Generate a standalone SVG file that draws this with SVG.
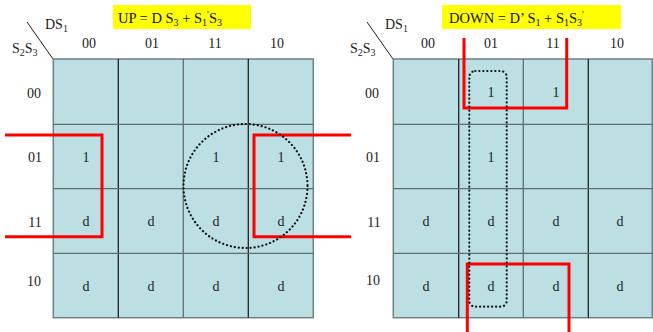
<svg xmlns="http://www.w3.org/2000/svg" width="653" height="332" viewBox="0 0 653 332">
<style>
text{font-family:"Liberation Serif","Times New Roman",serif;font-size:14px;fill:#222}
.c{text-anchor:middle}
.sub{font-size:10px}
.pr{font-size:10px}
.title{font-size:14.5px;fill:#111}
.cell{fill:#bbdfe2;stroke:#6e8282;stroke-width:1.5}
.in{stroke:#222;stroke-width:1.3}
.ing{stroke:#5e6e6e;stroke-width:1.3}
.red{fill:none;stroke:#ff0000;stroke-width:3}
.dot{fill:none;stroke:#111;stroke-width:2.2;stroke-dasharray:0.1 3.9;stroke-linecap:round}
</style>
<g id="left-map">
<rect x="113" y="5" width="138" height="24" fill="#ffff00"/>
<text class="title" x="118" y="23">UP = D S<tspan class="sub" dy="3">3</tspan><tspan dy="-3"> + S</tspan><tspan class="sub" dy="3">1</tspan><tspan class="pr" dy="-8">'</tspan><tspan dy="5">S</tspan><tspan class="sub" dy="3">3</tspan></text>
<line x1="27" y1="22" x2="53" y2="59" stroke="#222" stroke-width="1"/>
<text x="45" y="29">DS<tspan class="sub" dy="3">1</tspan></text>
<text x="12" y="53">S<tspan class="sub" dy="3">2</tspan><tspan dy="-3">S</tspan><tspan class="sub" dy="3">3</tspan></text>
<text class="c" x="89" y="48">00</text>
<text class="c" x="152" y="48">01</text>
<text class="c" x="215" y="48">11</text>
<text class="c" x="277" y="48">10</text>
<text class="c" x="34" y="98">00</text>
<text class="c" x="35" y="162">01</text>
<text class="c" x="35" y="227">11</text>
<text class="c" x="34" y="286">10</text>
<rect class="cell" x="53.3" y="59" width="260" height="258.7"/>
<line class="in" x1="118.3" y1="59" x2="118.3" y2="317.7"/>
<line class="ing" x1="183.3" y1="59" x2="183.3" y2="317.7"/>
<line class="in" x1="248.3" y1="59" x2="248.3" y2="317.7"/>
<line class="ing" x1="53.3" y1="124.3" x2="313.3" y2="124.3"/>
<line class="ing" x1="53.3" y1="188.7" x2="313.3" y2="188.7"/>
<line class="ing" x1="53.3" y1="253.3" x2="313.3" y2="253.3"/>
<text class="c" x="86" y="161.5">1</text>
<text class="c" x="216" y="161.5">1</text>
<text class="c" x="281" y="161.5">1</text>
<text class="c" x="86" y="226">d</text>
<text class="c" x="151" y="226">d</text>
<text class="c" x="216" y="226">d</text>
<text class="c" x="281" y="226">d</text>
<text class="c" x="86" y="291">d</text>
<text class="c" x="151" y="291">d</text>
<text class="c" x="216" y="291">d</text>
<text class="c" x="281" y="291">d</text>
</g>
<g id="right-map">
<rect x="442" y="5" width="179" height="24" fill="#ffff00"/>
<text class="title" x="449" y="23">DOWN = D’ S<tspan class="sub" dy="3">1</tspan><tspan dy="-3"> + S</tspan><tspan class="sub" dy="3">1</tspan><tspan dy="-3">S</tspan><tspan class="sub" dy="3">3</tspan><tspan class="pr" dy="-8">'</tspan></text>
<line x1="367" y1="22" x2="393" y2="59" stroke="#222" stroke-width="1"/>
<text x="385" y="29">DS<tspan class="sub" dy="3">1</tspan></text>
<text x="350" y="53">S<tspan class="sub" dy="3">2</tspan><tspan dy="-3">S</tspan><tspan class="sub" dy="3">3</tspan></text>
<text class="c" x="428" y="48">00</text>
<text class="c" x="491" y="48">01</text>
<text class="c" x="553" y="48">11</text>
<text class="c" x="617" y="48">10</text>
<text class="c" x="372" y="98">00</text>
<text class="c" x="373" y="162">01</text>
<text class="c" x="374" y="227">11</text>
<text class="c" x="373" y="285">10</text>
<rect class="cell" x="393.3" y="59" width="259" height="258.7"/>
<line class="in" x1="458.7" y1="59" x2="458.7" y2="317.7"/>
<line class="ing" x1="523.3" y1="59" x2="523.3" y2="317.7"/>
<line class="in" x1="588.3" y1="59" x2="588.3" y2="317.7" stroke-width="2"/>
<line class="ing" x1="393.3" y1="124.3" x2="652.3" y2="124.3"/>
<line class="ing" x1="393.3" y1="188.7" x2="652.3" y2="188.7"/>
<line class="ing" x1="393.3" y1="253.3" x2="652.3" y2="253.3"/>
<text class="c" x="491" y="96.5">1</text>
<text class="c" x="556" y="96.5">1</text>
<text class="c" x="491" y="161.5">1</text>
<text class="c" x="426" y="226">d</text>
<text class="c" x="491" y="226">d</text>
<text class="c" x="556" y="226">d</text>
<text class="c" x="620" y="226">d</text>
<text class="c" x="426" y="291">d</text>
<text class="c" x="491" y="291">d</text>
<text class="c" x="556" y="291">d</text>
<text class="c" x="620" y="291">d</text>
</g>
<g id="connectors">
<polyline class="red" points="5,135 102,135 102,236.7 5,236.7"/>
<polyline class="red" points="351,135 254,135 254,236.7 351,236.7"/>
<circle class="dot" cx="245.5" cy="186" r="62"/>
<polyline class="red" points="464,38 464,108 566.7,108 566.7,38"/>
<polyline class="red" points="467.3,332 467.3,264 569,264 569,332"/>
<rect class="dot" x="469.3" y="71" width="37.4" height="235.7" rx="6"/>
</g>
</svg>
